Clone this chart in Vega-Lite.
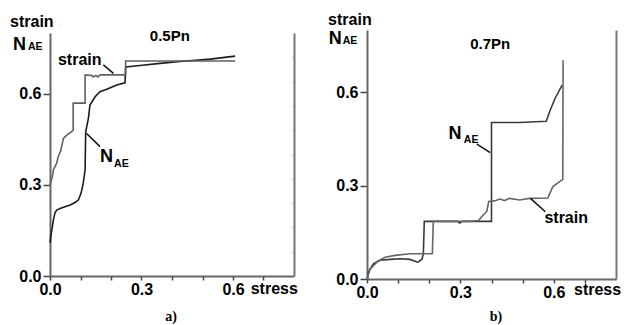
{
  "$schema": "https://vega.github.io/schema/vega-lite/v6.json",
  "padding": {"left": 10, "top": 12, "right": 0, "bottom": 0},
  "spacing": 73,
  "bounds": "flush",
  "center": true,
  "config": {"view": {"stroke": null}, "font": "Liberation Sans"},
  "datasets": {
    "curves": [
      {"panel": "a", "series": "strain", "i": 0, "x": 0, "y": 0.3},
      {"panel": "a", "series": "strain", "i": 1, "x": 0.0075, "y": 0.327},
      {"panel": "a", "series": "strain", "i": 2, "x": 0.011, "y": 0.349},
      {"panel": "a", "series": "strain", "i": 3, "x": 0.022, "y": 0.372},
      {"panel": "a", "series": "strain", "i": 4, "x": 0.027, "y": 0.393},
      {"panel": "a", "series": "strain", "i": 5, "x": 0.036, "y": 0.415},
      {"panel": "a", "series": "strain", "i": 6, "x": 0.038, "y": 0.426},
      {"panel": "a", "series": "strain", "i": 7, "x": 0.044, "y": 0.453},
      {"panel": "a", "series": "strain", "i": 8, "x": 0.055, "y": 0.464},
      {"panel": "a", "series": "strain", "i": 9, "x": 0.071, "y": 0.475},
      {"panel": "a", "series": "strain", "i": 10, "x": 0.076, "y": 0.481},
      {"panel": "a", "series": "strain", "i": 11, "x": 0.076, "y": 0.569},
      {"panel": "a", "series": "strain", "i": 12, "x": 0.115, "y": 0.569},
      {"panel": "a", "series": "strain", "i": 13, "x": 0.115, "y": 0.662},
      {"panel": "a", "series": "strain", "i": 14, "x": 0.138, "y": 0.66},
      {"panel": "a", "series": "strain", "i": 15, "x": 0.141, "y": 0.655},
      {"panel": "a", "series": "strain", "i": 16, "x": 0.151, "y": 0.66},
      {"panel": "a", "series": "strain", "i": 17, "x": 0.157, "y": 0.655},
      {"panel": "a", "series": "strain", "i": 18, "x": 0.164, "y": 0.662},
      {"panel": "a", "series": "strain", "i": 19, "x": 0.248, "y": 0.662},
      {"panel": "a", "series": "strain", "i": 20, "x": 0.248, "y": 0.708},
      {"panel": "a", "series": "strain", "i": 21, "x": 0.607, "y": 0.708},
      {"panel": "a", "series": "N_AE", "i": 0, "x": 0, "y": 0.109},
      {"panel": "a", "series": "N_AE", "i": 1, "x": 0.005, "y": 0.145},
      {"panel": "a", "series": "N_AE", "i": 2, "x": 0.011, "y": 0.184},
      {"panel": "a", "series": "N_AE", "i": 3, "x": 0.016, "y": 0.207},
      {"panel": "a", "series": "N_AE", "i": 4, "x": 0.022, "y": 0.217},
      {"panel": "a", "series": "N_AE", "i": 5, "x": 0.033, "y": 0.222},
      {"panel": "a", "series": "N_AE", "i": 6, "x": 0.049, "y": 0.228},
      {"panel": "a", "series": "N_AE", "i": 7, "x": 0.066, "y": 0.234},
      {"panel": "a", "series": "N_AE", "i": 8, "x": 0.082, "y": 0.242},
      {"panel": "a", "series": "N_AE", "i": 9, "x": 0.093, "y": 0.25},
      {"panel": "a", "series": "N_AE", "i": 10, "x": 0.102, "y": 0.273},
      {"panel": "a", "series": "N_AE", "i": 11, "x": 0.109, "y": 0.306},
      {"panel": "a", "series": "N_AE", "i": 12, "x": 0.115, "y": 0.349},
      {"panel": "a", "series": "N_AE", "i": 13, "x": 0.117, "y": 0.475},
      {"panel": "a", "series": "N_AE", "i": 14, "x": 0.126, "y": 0.52},
      {"panel": "a", "series": "N_AE", "i": 15, "x": 0.131, "y": 0.563},
      {"panel": "a", "series": "N_AE", "i": 16, "x": 0.148, "y": 0.59},
      {"panel": "a", "series": "N_AE", "i": 17, "x": 0.164, "y": 0.607},
      {"panel": "a", "series": "N_AE", "i": 18, "x": 0.186, "y": 0.615},
      {"panel": "a", "series": "N_AE", "i": 19, "x": 0.219, "y": 0.629},
      {"panel": "a", "series": "N_AE", "i": 20, "x": 0.246, "y": 0.636},
      {"panel": "a", "series": "N_AE", "i": 21, "x": 0.248, "y": 0.688},
      {"panel": "a", "series": "N_AE", "i": 22, "x": 0.295, "y": 0.693},
      {"panel": "a", "series": "N_AE", "i": 23, "x": 0.361, "y": 0.7},
      {"panel": "a", "series": "N_AE", "i": 24, "x": 0.426, "y": 0.706},
      {"panel": "a", "series": "N_AE", "i": 25, "x": 0.525, "y": 0.714},
      {"panel": "a", "series": "N_AE", "i": 26, "x": 0.607, "y": 0.724},
      {"panel": "b", "series": "N_AE", "i": 0, "x": 0.001, "y": 0.002},
      {"panel": "b", "series": "N_AE", "i": 1, "x": 0.006, "y": 0.025},
      {"panel": "b", "series": "N_AE", "i": 2, "x": 0.013, "y": 0.037},
      {"panel": "b", "series": "N_AE", "i": 3, "x": 0.022, "y": 0.05},
      {"panel": "b", "series": "N_AE", "i": 4, "x": 0.042, "y": 0.06},
      {"panel": "b", "series": "N_AE", "i": 5, "x": 0.074, "y": 0.063},
      {"panel": "b", "series": "N_AE", "i": 6, "x": 0.106, "y": 0.065},
      {"panel": "b", "series": "N_AE", "i": 7, "x": 0.138, "y": 0.063},
      {"panel": "b", "series": "N_AE", "i": 8, "x": 0.163, "y": 0.054},
      {"panel": "b", "series": "N_AE", "i": 9, "x": 0.176, "y": 0.063},
      {"panel": "b", "series": "N_AE", "i": 10, "x": 0.181, "y": 0.079},
      {"panel": "b", "series": "N_AE", "i": 11, "x": 0.184, "y": 0.185},
      {"panel": "b", "series": "N_AE", "i": 12, "x": 0.234, "y": 0.185},
      {"panel": "b", "series": "N_AE", "i": 13, "x": 0.29, "y": 0.185},
      {"panel": "b", "series": "N_AE", "i": 14, "x": 0.298, "y": 0.18},
      {"panel": "b", "series": "N_AE", "i": 15, "x": 0.306, "y": 0.185},
      {"panel": "b", "series": "N_AE", "i": 16, "x": 0.4, "y": 0.185},
      {"panel": "b", "series": "N_AE", "i": 17, "x": 0.4, "y": 0.503},
      {"panel": "b", "series": "N_AE", "i": 18, "x": 0.49, "y": 0.503},
      {"panel": "b", "series": "N_AE", "i": 19, "x": 0.576, "y": 0.507},
      {"panel": "b", "series": "N_AE", "i": 20, "x": 0.587, "y": 0.538},
      {"panel": "b", "series": "N_AE", "i": 21, "x": 0.604, "y": 0.58},
      {"panel": "b", "series": "N_AE", "i": 22, "x": 0.627, "y": 0.623},
      {"panel": "b", "series": "strain", "i": 0, "x": 0, "y": 0},
      {"panel": "b", "series": "strain", "i": 1, "x": 0.01, "y": 0.031},
      {"panel": "b", "series": "strain", "i": 2, "x": 0.019, "y": 0.041},
      {"panel": "b", "series": "strain", "i": 3, "x": 0.035, "y": 0.057},
      {"panel": "b", "series": "strain", "i": 4, "x": 0.058, "y": 0.07},
      {"panel": "b", "series": "strain", "i": 5, "x": 0.09, "y": 0.076},
      {"panel": "b", "series": "strain", "i": 6, "x": 0.138, "y": 0.081},
      {"panel": "b", "series": "strain", "i": 7, "x": 0.17, "y": 0.081},
      {"panel": "b", "series": "strain", "i": 8, "x": 0.21, "y": 0.081},
      {"panel": "b", "series": "strain", "i": 9, "x": 0.213, "y": 0.185},
      {"panel": "b", "series": "strain", "i": 10, "x": 0.33, "y": 0.185},
      {"panel": "b", "series": "strain", "i": 11, "x": 0.358, "y": 0.188},
      {"panel": "b", "series": "strain", "i": 12, "x": 0.372, "y": 0.204},
      {"panel": "b", "series": "strain", "i": 13, "x": 0.385, "y": 0.217},
      {"panel": "b", "series": "strain", "i": 14, "x": 0.391, "y": 0.249},
      {"panel": "b", "series": "strain", "i": 15, "x": 0.41, "y": 0.251},
      {"panel": "b", "series": "strain", "i": 16, "x": 0.426, "y": 0.257},
      {"panel": "b", "series": "strain", "i": 17, "x": 0.442, "y": 0.252},
      {"panel": "b", "series": "strain", "i": 18, "x": 0.458, "y": 0.259},
      {"panel": "b", "series": "strain", "i": 19, "x": 0.49, "y": 0.254},
      {"panel": "b", "series": "strain", "i": 20, "x": 0.522, "y": 0.259},
      {"panel": "b", "series": "strain", "i": 21, "x": 0.581, "y": 0.26},
      {"panel": "b", "series": "strain", "i": 22, "x": 0.597, "y": 0.297},
      {"panel": "b", "series": "strain", "i": 23, "x": 0.619, "y": 0.313},
      {"panel": "b", "series": "strain", "i": 24, "x": 0.629, "y": 0.32},
      {"panel": "b", "series": "strain", "i": 25, "x": 0.63, "y": 0.703}
    ],
    "labels": [
      {"panel": "a", "kind": "word", "text": "strain", "x": -0.131, "y": 0.82},
      {"panel": "a", "kind": "N", "text": "N", "x": -0.121, "y": 0.744},
      {"panel": "a", "kind": "sub", "text": "AE", "x": -0.072, "y": 0.744},
      {"panel": "a", "kind": "word", "text": "strain", "x": 0.026, "y": 0.695},
      {"panel": "a", "kind": "N", "text": "N", "x": 0.164, "y": 0.375},
      {"panel": "a", "kind": "sub", "text": "AE", "x": 0.21, "y": 0.359},
      {"panel": "a", "kind": "word", "text": "stress", "x": 0.658, "y": -0.059},
      {"panel": "a", "kind": "title", "text": "0.5Pn", "x": 0.393, "y": 0.774},
      {"panel": "a", "kind": "cap", "text": "a)", "x": 0.397, "y": -0.148},
      {"panel": "b", "kind": "word", "text": "strain", "x": -0.125, "y": 0.816},
      {"panel": "b", "kind": "N", "text": "N", "x": -0.123, "y": 0.754},
      {"panel": "b", "kind": "sub", "text": "AE", "x": -0.078, "y": 0.754},
      {"panel": "b", "kind": "title", "text": "0.7Pn", "x": 0.396, "y": 0.738},
      {"panel": "b", "kind": "N", "text": "N", "x": 0.262, "y": 0.449},
      {"panel": "b", "kind": "sub", "text": "AE", "x": 0.311, "y": 0.438},
      {"panel": "b", "kind": "word", "text": "strain", "x": 0.57, "y": 0.179},
      {"panel": "b", "kind": "word", "text": "stress", "x": 0.665, "y": -0.051},
      {"panel": "b", "kind": "cap", "text": "b)", "x": 0.414, "y": -0.135}
    ],
    "leaders": [
      {"panel": "a", "x": 0.175, "y": 0.695, "x2": 0.208, "y2": 0.667},
      {"panel": "a", "x": 0.12, "y": 0.469, "x2": 0.164, "y2": 0.426},
      {"panel": "b", "x": 0.353, "y": 0.433, "x2": 0.396, "y2": 0.406},
      {"panel": "b", "x": 0.525, "y": 0.259, "x2": 0.573, "y2": 0.216}
    ]
  },
  "hconcat": [
    {
      "width": 244,
      "height": 243,
      "resolve": {"axis": {"x": "independent", "y": "independent"}},
      "layer": [
        {
          "data": {"name": "curves"},
          "transform": [{"filter": "datum.panel == 'a' && datum.series == 'N_AE'"}],
          "mark": {"type": "line", "color": "#1c1c1c", "strokeWidth": 1.6, "clip": false},
          "encoding": {
            "x": {"field": "x", "type": "quantitative", "scale": {"domain": [0, 0.8], "nice": false, "zero": false},
              "axis": {"orient": "bottom", "values": [0, 0.1, 0.2, 0.3, 0.4, 0.5, 0.6, 0.7], "labelExpr": "(datum.value < 0.01 || abs(datum.value - 0.3) < 0.001 || abs(datum.value - 0.6) < 0.001) ? format(datum.value, '.1f') : ''",
                "title": null, "grid": false, "domainColor": "#666", "domainWidth": 2, "tickColor": "#444", "tickWidth": 1.5, "tickSize": 4,
                "labelFont": "Liberation Sans", "labelFontWeight": "bold", "labelFontSize": 16, "labelColor": "#000", "labelPadding": 1, "labelFlush": false, "labelOverlap": false}},
            "y": {"field": "y", "type": "quantitative", "scale": {"domain": [0, 0.8], "nice": false, "zero": false},
              "axis": {"orient": "left", "values": [0, 0.3, 0.6], "format": ".1f", "title": null, "grid": false, "domainColor": "#666", "domainWidth": 2, "tickColor": "#444", "tickWidth": 1.5, "tickSize": 7,
                "labelFont": "Liberation Sans", "labelFontWeight": "bold", "labelFontSize": 16, "labelColor": "#000", "labelPadding": 2, "labelFlush": false, "labelOverlap": false}},
            "order": {"field": "i", "type": "quantitative"}
          }
        },
        {
          "data": {"name": "curves"},
          "transform": [{"filter": "datum.panel == 'a' && datum.series == 'strain'"}],
          "mark": {"type": "line", "color": "#606060", "strokeWidth": 1.6, "clip": false},
          "encoding": {
            "x": {"field": "x", "type": "quantitative", "scale": {"domain": [0, 0.8], "nice": false, "zero": false}, "axis": null},
            "y": {"field": "y", "type": "quantitative", "scale": {"domain": [0, 0.8], "nice": false, "zero": false},
              "axis": {"orient": "right", "values": [0.08, 0.16, 0.24, 0.32, 0.4, 0.48, 0.56, 0.64, 0.72], "labels": false, "title": null, "grid": false, "domainColor": "#777", "domainWidth": 2, "tickColor": "#aaa", "tickWidth": 1, "tickSize": -2}},
            "order": {"field": "i", "type": "quantitative"}
          }
        },
        {
          "data": {"name": "leaders"},
          "transform": [{"filter": "datum.panel == 'a'"}],
          "mark": {"type": "rule", "color": "#111", "strokeWidth": 1.5},
          "encoding": {
            "x": {"field": "x", "type": "quantitative", "axis": null},
            "y": {"field": "y", "type": "quantitative", "axis": null},
            "x2": {"field": "x2"},
            "y2": {"field": "y2"}
          }
        },
        {
          "data": {"name": "labels"},
          "transform": [{"filter": "datum.panel == 'a' && datum.kind == 'word'"}],
          "mark": {"type": "text", "font": "Liberation Sans", "fontWeight": "bold", "fontSize": 16, "align": "left", "baseline": "alphabetic", "color": "#000"},
          "encoding": {"x": {"field": "x", "type": "quantitative", "axis": null}, "y": {"field": "y", "type": "quantitative", "axis": null}, "text": {"field": "text"}}
        },
        {
          "data": {"name": "labels"},
          "transform": [{"filter": "datum.panel == 'a' && datum.kind == 'N'"}],
          "mark": {"type": "text", "font": "Liberation Sans", "fontWeight": "bold", "fontSize": 18, "align": "left", "baseline": "alphabetic", "color": "#000"},
          "encoding": {"x": {"field": "x", "type": "quantitative", "axis": null}, "y": {"field": "y", "type": "quantitative", "axis": null}, "text": {"field": "text"}}
        },
        {
          "data": {"name": "labels"},
          "transform": [{"filter": "datum.panel == 'a' && datum.kind == 'sub'"}],
          "mark": {"type": "text", "font": "Liberation Sans", "fontWeight": "bold", "fontSize": 10.5, "align": "left", "baseline": "alphabetic", "color": "#000"},
          "encoding": {"x": {"field": "x", "type": "quantitative", "axis": null}, "y": {"field": "y", "type": "quantitative", "axis": null}, "text": {"field": "text"}}
        },
        {
          "data": {"name": "labels"},
          "transform": [{"filter": "datum.panel == 'a' && datum.kind == 'title'"}],
          "mark": {"type": "text", "font": "Liberation Sans", "fontWeight": "bold", "fontSize": 15, "align": "center", "baseline": "alphabetic", "color": "#000"},
          "encoding": {"x": {"field": "x", "type": "quantitative", "axis": null}, "y": {"field": "y", "type": "quantitative", "axis": null}, "text": {"field": "text"}}
        },
        {
          "data": {"name": "labels"},
          "transform": [{"filter": "datum.panel == 'a' && datum.kind == 'cap'"}],
          "mark": {"type": "text", "font": "Liberation Serif", "fontWeight": "bold", "fontSize": 14, "align": "center", "baseline": "alphabetic", "color": "#000"},
          "encoding": {"x": {"field": "x", "type": "quantitative", "axis": null}, "y": {"field": "y", "type": "quantitative", "axis": null}, "text": {"field": "text"}}
        }
      ]
    },
    {
      "width": 249,
      "height": 249,
      "resolve": {"axis": {"x": "independent", "y": "independent"}},
      "layer": [
        {
          "data": {"name": "curves"},
          "transform": [{"filter": "datum.panel == 'b' && datum.series == 'N_AE'"}],
          "mark": {"type": "line", "color": "#3a3a3a", "strokeWidth": 1.6, "clip": false},
          "encoding": {
            "x": {"field": "x", "type": "quantitative", "scale": {"domain": [0, 0.8], "nice": false, "zero": false},
              "axis": {"orient": "bottom", "values": [0, 0.1, 0.2, 0.3, 0.4, 0.5, 0.6, 0.7], "labelExpr": "(datum.value < 0.01 || abs(datum.value - 0.3) < 0.001 || abs(datum.value - 0.6) < 0.001) ? format(datum.value, '.1f') : ''",
                "title": null, "grid": false, "domainColor": "#666", "domainWidth": 2, "tickColor": "#444", "tickWidth": 1.5, "tickSize": 4,
                "labelFont": "Liberation Sans", "labelFontWeight": "bold", "labelFontSize": 16, "labelColor": "#000", "labelPadding": 1, "labelFlush": false, "labelOverlap": false}},
            "y": {"field": "y", "type": "quantitative", "scale": {"domain": [0, 0.8], "nice": false, "zero": false},
              "axis": {"orient": "left", "values": [0, 0.3, 0.6], "format": ".1f", "title": null, "grid": false, "domainColor": "#666", "domainWidth": 2, "tickColor": "#444", "tickWidth": 1.5, "tickSize": 7,
                "labelFont": "Liberation Sans", "labelFontWeight": "bold", "labelFontSize": 16, "labelColor": "#000", "labelPadding": 2, "labelFlush": false, "labelOverlap": false}},
            "order": {"field": "i", "type": "quantitative"}
          }
        },
        {
          "data": {"name": "curves"},
          "transform": [{"filter": "datum.panel == 'b' && datum.series == 'strain'"}],
          "mark": {"type": "line", "color": "#666", "strokeWidth": 1.6, "clip": false},
          "encoding": {
            "x": {"field": "x", "type": "quantitative", "scale": {"domain": [0, 0.8], "nice": false, "zero": false}, "axis": null},
            "y": {"field": "y", "type": "quantitative", "scale": {"domain": [0, 0.8], "nice": false, "zero": false},
              "axis": {"orient": "right", "labels": false, "ticks": false, "title": null, "grid": false, "domainColor": "#777", "domainWidth": 2}},
            "order": {"field": "i", "type": "quantitative"}
          }
        },
        {
          "data": {"name": "leaders"},
          "transform": [{"filter": "datum.panel == 'b'"}],
          "mark": {"type": "rule", "color": "#111", "strokeWidth": 1.5},
          "encoding": {
            "x": {"field": "x", "type": "quantitative", "axis": null},
            "y": {"field": "y", "type": "quantitative", "axis": null},
            "x2": {"field": "x2"},
            "y2": {"field": "y2"}
          }
        },
        {
          "data": {"name": "labels"},
          "transform": [{"filter": "datum.panel == 'b' && datum.kind == 'word'"}],
          "mark": {"type": "text", "font": "Liberation Sans", "fontWeight": "bold", "fontSize": 16, "align": "left", "baseline": "alphabetic", "color": "#000"},
          "encoding": {"x": {"field": "x", "type": "quantitative", "axis": null}, "y": {"field": "y", "type": "quantitative", "axis": null}, "text": {"field": "text"}}
        },
        {
          "data": {"name": "labels"},
          "transform": [{"filter": "datum.panel == 'b' && datum.kind == 'N'"}],
          "mark": {"type": "text", "font": "Liberation Sans", "fontWeight": "bold", "fontSize": 18, "align": "left", "baseline": "alphabetic", "color": "#000"},
          "encoding": {"x": {"field": "x", "type": "quantitative", "axis": null}, "y": {"field": "y", "type": "quantitative", "axis": null}, "text": {"field": "text"}}
        },
        {
          "data": {"name": "labels"},
          "transform": [{"filter": "datum.panel == 'b' && datum.kind == 'sub'"}],
          "mark": {"type": "text", "font": "Liberation Sans", "fontWeight": "bold", "fontSize": 10.5, "align": "left", "baseline": "alphabetic", "color": "#000"},
          "encoding": {"x": {"field": "x", "type": "quantitative", "axis": null}, "y": {"field": "y", "type": "quantitative", "axis": null}, "text": {"field": "text"}}
        },
        {
          "data": {"name": "labels"},
          "transform": [{"filter": "datum.panel == 'b' && datum.kind == 'title'"}],
          "mark": {"type": "text", "font": "Liberation Sans", "fontWeight": "bold", "fontSize": 15, "align": "center", "baseline": "alphabetic", "color": "#000"},
          "encoding": {"x": {"field": "x", "type": "quantitative", "axis": null}, "y": {"field": "y", "type": "quantitative", "axis": null}, "text": {"field": "text"}}
        },
        {
          "data": {"name": "labels"},
          "transform": [{"filter": "datum.panel == 'b' && datum.kind == 'cap'"}],
          "mark": {"type": "text", "font": "Liberation Serif", "fontWeight": "bold", "fontSize": 14, "align": "center", "baseline": "alphabetic", "color": "#000"},
          "encoding": {"x": {"field": "x", "type": "quantitative", "axis": null}, "y": {"field": "y", "type": "quantitative", "axis": null}, "text": {"field": "text"}}
        }
      ]
    }
  ]
}
